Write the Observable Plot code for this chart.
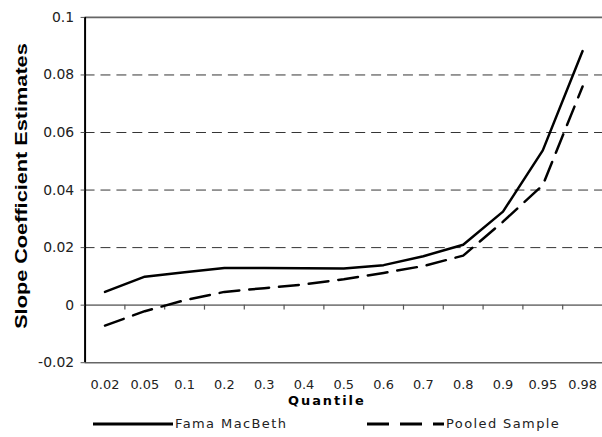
<!DOCTYPE html>
<html>
<head>
<meta charset="utf-8">
<script src="https://cdn.jsdelivr.net/npm/d3@7"></script>
<script src="https://cdn.jsdelivr.net/npm/@observablehq/plot@0.6"></script>
<style>
  html, body { margin: 0; padding: 0; background: #fff; overflow: hidden; width: 602px; height: 437px; }
  #chart { position: relative; width: 602px; }
  #legend { position: relative; height: 22px; font-family: "DejaVu Sans", sans-serif; font-size: 13px; color: #222; letter-spacing: 1.4px; }
  #legend .item { position: absolute; top: 0; display: flex; align-items: center; height: 22px; }
  #legend svg { display: block; margin-right: 2px; }
</style>
</head>
<body>
<div id="chart"></div>
<div id="legend"></div>
<script>
const quantiles = ["0.02","0.05","0.1","0.2","0.3","0.4","0.5","0.6","0.7","0.8","0.9","0.95","0.98"];
const famaMacBeth = [0.0046, 0.0099, 0.0114, 0.0129, 0.0129, 0.0128, 0.0127, 0.0139, 0.0170, 0.0210, 0.0325, 0.0538, 0.0883];
const pooledSample = [-0.0071, -0.0021, 0.0017, 0.0046, 0.0059, 0.0072, 0.0090, 0.0112, 0.0136, 0.0172, 0.0290, 0.0417, 0.0760];
const yTicks = [-0.02, 0, 0.02, 0.04, 0.06, 0.08, 0.1];
const yTickLabels = ["-0.02", "0", "0.02", "0.04", "0.06", "0.08", "0.1"];
const gridValues = [0.02, 0.04, 0.06, 0.08];
const seriesNames = ["Fama MacBeth", "Pooled Sample"];
const xTitle = "Quantile";
const yTitle = "Slope Coefficient Estimates";

const rows = quantiles.map((q, i) => ({pos: i + 0.5, q, fama: famaMacBeth[i], pooled: pooledSample[i]}));
const centers = rows.map(d => d.pos);
const boundaries = d3.range(1, quantiles.length);

const chart = Plot.plot({
  width: 605,
  height: 415,
  marginLeft: 85,
  marginRight: 0,
  marginTop: 17,
  marginBottom: 51,
  style: {fontFamily: "DejaVu Sans, sans-serif", fontSize: "13px", color: "#222", background: "white"},
  x: {type: "linear", domain: [0, quantiles.length], axis: null},
  y: {domain: [-0.02, 0.1], axis: null},
  marks: [
    Plot.ruleY(gridValues, {stroke: "#333", strokeWidth: 1, strokeDasharray: "10,6"}),
    Plot.ruleY([0.1], {stroke: "#666", strokeWidth: 1.6}),
    Plot.ruleY([-0.02], {stroke: "#666", strokeWidth: 1.6}),
    Plot.ruleY([0], {stroke: "#808080", strokeWidth: 1.6}),
    Plot.ruleX(boundaries, {x: d => d, y1: 0, y2: 0, insetBottom: -5, stroke: "#555", strokeWidth: 1.2}),
    Plot.ruleX([0], {stroke: "#000", strokeWidth: 2}),
    Plot.axisY({ticks: yTicks, tickFormat: d => yTickLabels[yTicks.indexOf(d)], tickSize: 4, tickPadding: 7, label: null, stroke: "#555", fontSize: 14}),
    Plot.axisX({ticks: centers, tickFormat: d => quantiles[Math.round(d - 0.5)], tickSize: 0, tickPadding: 17, label: null, fontSize: 13}),
    Plot.line(rows, {x: "pos", y: "fama", stroke: "#000", strokeWidth: 2.5}),
    Plot.line(rows, {x: "pos", y: "pooled", stroke: "#000", strokeWidth: 2.5, strokeDasharray: "20,10"}),
    Plot.text([yTitle], {frameAnchor: "left", textAnchor: "middle", rotate: -90, dx: -64, dy: -4, fontFamily: "Liberation Sans, Arial, sans-serif", fontWeight: "bold", fontSize: 16, fill: "#000"}),
    Plot.text([xTitle], {frameAnchor: "bottom", textAnchor: "middle", dx: -18, dy: 43, fontWeight: "bold", fontSize: 13, fill: "#000"})
  ]
});
document.getElementById("chart").appendChild(chart);

// stretch titles to match the reference's proportions
d3.select(chart).selectAll("text").each(function() {
  const t = this.textContent;
  if (t === yTitle) d3.select(this).attr("textLength", 287).attr("lengthAdjust", "spacingAndGlyphs");
  if (t === xTitle) d3.select(this).attr("textLength", 76).attr("lengthAdjust", "spacing");
});

// legend
const legend = d3.select("#legend");
const items = [
  {name: seriesNames[0], left: 93, w: 80, dash: null},
  {name: seriesNames[1], left: 367, w: 77, dash: "22,11"}
];
for (const it of items) {
  const div = legend.append("div").attr("class", "item").style("left", it.left + "px");
  const s = div.append("svg").attr("width", it.w).attr("height", 10);
  s.append("line").attr("x1", 0).attr("x2", it.w).attr("y1", 5).attr("y2", 5)
    .attr("stroke", "#000").attr("stroke-width", 3).attr("stroke-dasharray", it.dash);
  div.append("span").text(it.name);
}
</script>
</body>
</html>
